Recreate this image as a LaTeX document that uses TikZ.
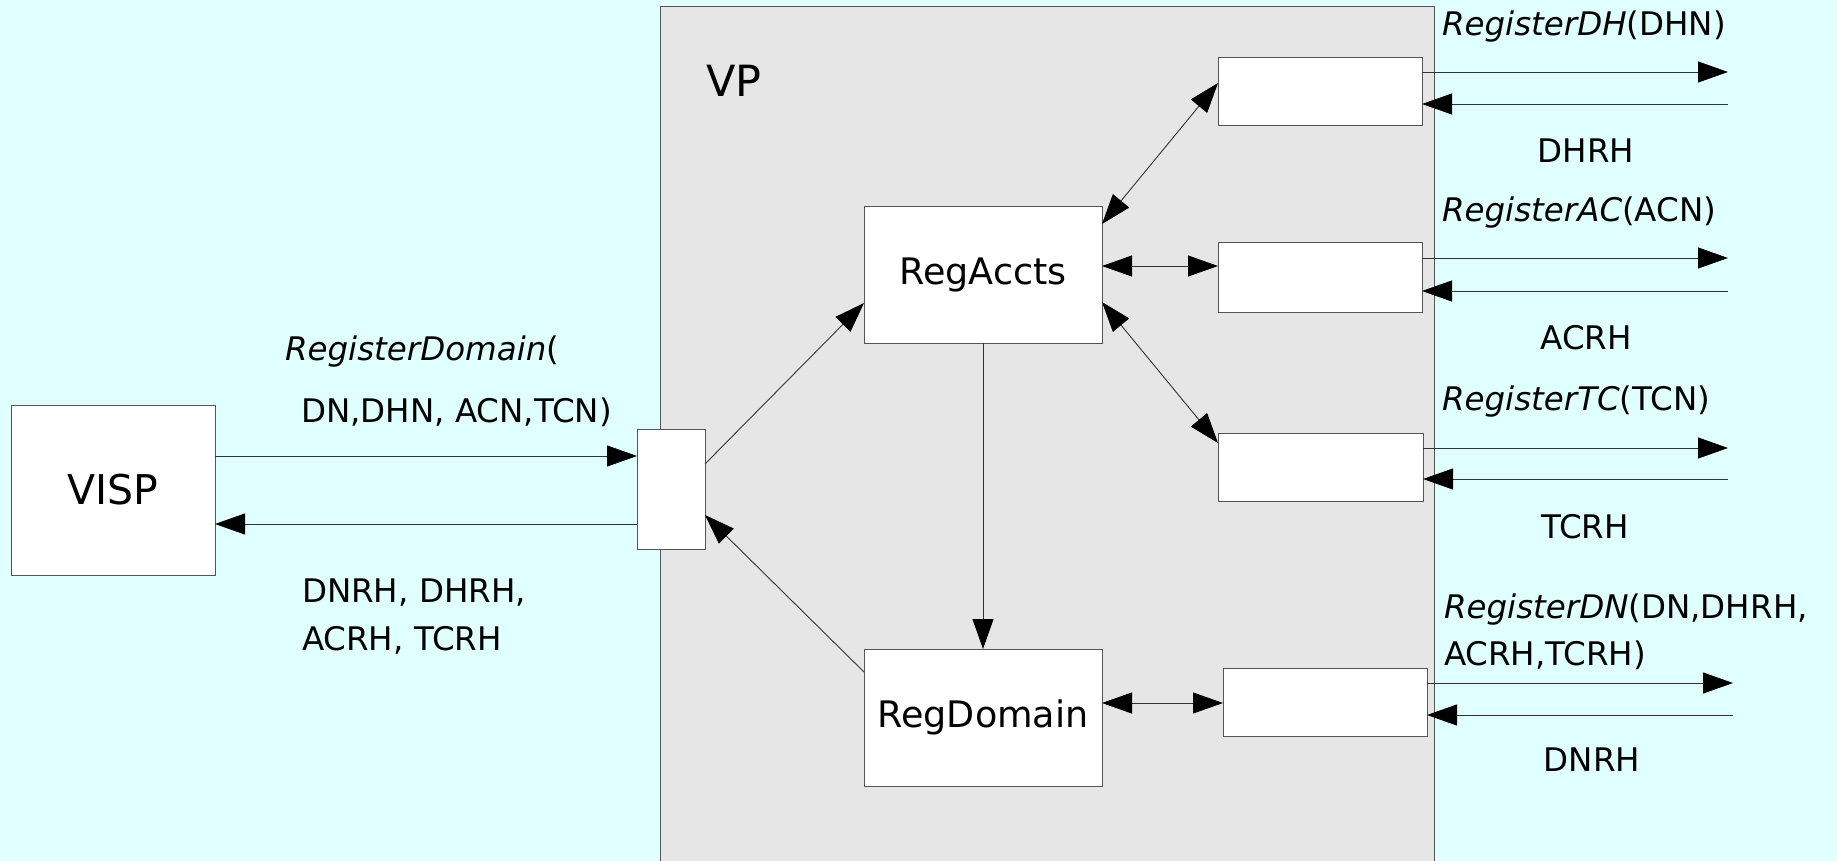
\documentclass[tikz,border=0pt]{standalone}
\usepackage{fontspec}
\setmainfont{DejaVu Sans}
\usetikzlibrary{arrows.meta,calc}
\definecolor{bgcyan}{HTML}{E0FFFF}
\definecolor{vpgray}{HTML}{E6E6E6}
\definecolor{edgegray}{HTML}{555555}

\begin{document}
\begin{tikzpicture}[x=1pt,y=-1pt,
  >={Triangle[length=30pt,width=21pt,color=black]},
  box/.style={draw=edgegray,fill=white,line width=1pt,inner sep=0pt,outer sep=0pt},
  conn/.style={line width=0.9pt,draw=black!80},
  lbl/.style={font=\fontsize{32.5}{39}\selectfont,inner sep=0pt,outer sep=0pt},
  big/.style={font=\fontsize{36.5}{43}\selectfont}]

% canvas
\useasboundingbox (0,0) rectangle (1837,861);
\fill[bgcyan] (0,0) rectangle (1837,861);

% VP container (runs off the bottom edge)
\fill[vpgray] (660,7) rectangle (1434,861);
\draw[edgegray,line width=1pt] (660,861) -- (660,7) -- (1434,7) -- (1434,861);
\node[inner sep=0pt,anchor=base west,font=\fontsize{43}{50}\selectfont] (vplabel) at (706,97) {VP};

% boxes
\node[box,minimum width=204pt,minimum height=170pt,font=\fontsize{41}{48}\selectfont] (visp) at (113,490) {VISP};
\node[box,minimum width=68pt,minimum height=120pt] (port) at (671,489) {};
\node[box,minimum width=238pt,minimum height=136pt,big] (ra) at (983,275) {RegAccts};
\node[box,minimum width=238pt,minimum height=137pt,big] (rd) at (983,717.5) {RegDomain};
\node[box,minimum width=204pt,minimum height=68pt] (dh) at (1320,92) {};
\node[box,minimum width=204pt,minimum height=69pt] (ac) at (1320,277.5) {};
\node[box,minimum width=205pt,minimum height=68pt] (tc) at (1320.5,467) {};
\node[box,minimum width=204pt,minimum height=68pt] (dn) at (1325,702) {};

% VISP <-> port
\coordinate (vOut) at ([yshift=34pt]visp.east);
\coordinate (vIn) at ([yshift=-34pt]visp.east);
\draw[conn,->] (vOut) -- (vOut -| port.west);
\draw[conn,->] (vIn -| port.west) -- (vIn);

% inside VP
\draw[conn,->] ([yshift=25pt]port.east) -- ([yshift=-28pt]ra.west);
\draw[conn,->] ([yshift=45.5pt]rd.west) -- ([yshift=-26pt]port.east);
\draw[conn,->] (ra.south) -- (rd.north);
\draw[conn,<->] ([yshift=51pt]ra.east) -- ([yshift=9pt]dh.west);
\coordinate (raE) at ([yshift=9pt]ra.east);
\draw[conn,<->] (raE) -- (raE -| ac.west);
\draw[conn,<->] ([yshift=-27pt]ra.east) -- ([yshift=24pt]tc.west);
\coordinate (rdE) at ([yshift=14.5pt]rd.east);
\draw[conn,<->] (rdE) -- (rdE -| dn.west);

% outgoing requests and returned handles
\coordinate (dhOut) at ([yshift=20pt]dh.east);
\coordinate (dhIn) at ([yshift=-12pt]dh.east);
\coordinate (acOut) at ([yshift=19.5pt]ac.east);
\coordinate (acIn) at ([yshift=-13.5pt]ac.east);
\coordinate (tcOut) at ([yshift=19pt]tc.east);
\coordinate (tcIn) at ([yshift=-12pt]tc.east);
\coordinate (dnOut) at ([yshift=19pt]dn.east);
\coordinate (dnIn) at ([yshift=-13pt]dn.east);
\coordinate (dhOutEnd) at (1728,0 |- dhOut);
\coordinate (dhInEnd) at (1728,0 |- dhIn);
\coordinate (acOutEnd) at (1728,0 |- acOut);
\coordinate (acInEnd) at (1728,0 |- acIn);
\coordinate (tcOutEnd) at (1728,0 |- tcOut);
\coordinate (tcInEnd) at (1728,0 |- tcIn);
\coordinate (dnOutEnd) at (1733,0 |- dnOut);
\coordinate (dnInEnd) at (1733,0 |- dnIn);
\draw[conn,->] (dhOut) -- (dhOutEnd);
\draw[conn,->] (dhInEnd) -- (dhIn);
\draw[conn,->] (acOut) -- (acOutEnd);
\draw[conn,->] (acInEnd) -- (acIn);
\draw[conn,->] (tcOut) -- (tcOutEnd);
\draw[conn,->] (tcInEnd) -- (tcIn);
\draw[conn,->] (dnOut) -- (dnOutEnd);
\draw[conn,->] (dnInEnd) -- (dnIn);

% message labels, left
\node[lbl,anchor=base west] (l1) at (285,360) {\textit{RegisterDomain}(};
\node[lbl,anchor=base west] (l2) at (301,422) {DN,DHN, ACN,TCN)};
\node[lbl,anchor=base west] (l3) at (302,602) {DNRH, DHRH,};
\node[lbl,anchor=base west] (l4) at (302,650) {ACRH, TCRH};

% message labels, right
\node[lbl,anchor=base west] (r1) at (1442,36) {\textit{RegisterDH}(DHN)};
\node[lbl,anchor=base] (r2) at (1586,163) {DHRH};
\node[lbl,anchor=base west] (r3) at (1442,222) {\textit{RegisterAC}(ACN)};
\node[lbl,anchor=base] (r4) at (1586,349) {ACRH};
\node[lbl,anchor=base west] (r5) at (1442,410) {\textit{RegisterTC}(TCN)};
\node[lbl,anchor=base] (r6) at (1585,538) {TCRH};
\node[lbl,anchor=base west] (r7) at (1444,618) {\textit{RegisterDN}(DN,DHRH,};
\node[lbl,anchor=base west] (r8) at (1444,665) {ACRH,TCRH)};
\node[lbl,anchor=base] (r9) at (1592,771) {DNRH};
\end{tikzpicture}
\end{document}
